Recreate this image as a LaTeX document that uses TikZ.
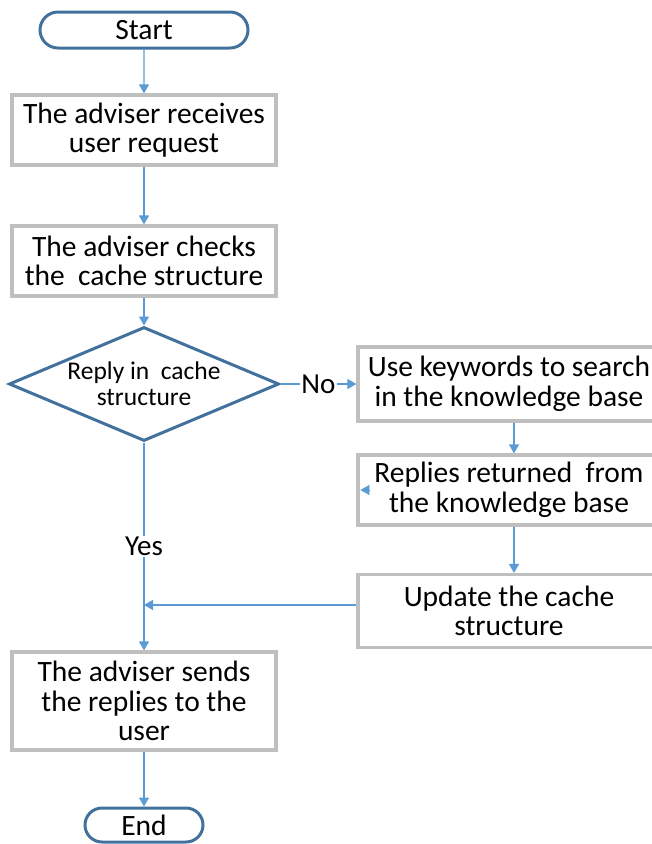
\documentclass[tikz,border=0pt]{standalone}
\usepackage{fontspec}
\setmainfont{Carlito}
\usetikzlibrary{shapes.geometric,shapes.misc,arrows.meta}
\definecolor{linkblue}{HTML}{5B9BD5}
\definecolor{edgeblue}{HTML}{41719C}
\definecolor{boxgray}{HTML}{BFBFBF}
\begin{document}
\begin{tikzpicture}[x=1pt,y=-1pt,
  terminal/.style={rounded rectangle,draw=edgeblue,line width=3pt,inner sep=0pt,
    font=\fontsize{29.5}{29.5}\selectfont},
  process/.style={rectangle,draw=boxgray,line width=3.2pt,align=center,inner sep=0pt,
    minimum height=70pt,font=\fontsize{29.5}{29.5}\selectfont},
  decision/.style={diamond,draw=edgeblue,line width=3pt,align=center,inner sep=0pt,
    aspect=2.4,minimum width=270pt,minimum height=114pt,font=\fontsize{25.5}{26}\selectfont},
  flow/.style={draw=linkblue,line width=1.4pt,-{Triangle[length=9pt,width=10pt]}},
  lbl/.style={fill=white,inner sep=1.5pt,font=\fontsize{29}{29}\selectfont}]
  \useasboundingbox (0,0) rectangle (652,844);
  \pgfmathsetmacro\mainx{144}
  \pgfmathsetmacro\sidex{509}
  % left column:
  \node[terminal,minimum width=208pt,minimum height=36pt] (start) at (\mainx,30) {Start};
  \node[process,minimum width=264pt] (receive) at (\mainx,130) {The adviser receives\\user request};
  \node[process,minimum width=264pt] (check) at (\mainx,261) {The adviser checks\\the\ \ cache structure};
  \node[decision] (incache) at (\mainx,384) {Reply in\ \ cache\\structure};
  \node[process,minimum width=264pt,minimum height=98pt] (send) at (\mainx,701) {The adviser sends\\the replies to the\\user};
  \node[terminal,minimum width=118pt,minimum height=34pt] (finish) at (\mainx,825) {End};
  % right column:
  \node[process,minimum width=302pt,minimum height=74pt] (search) at (\sidex,384) {Use keywords to search\\in the knowledge base};
  \node[process,minimum width=302pt] (returned) at (\sidex,490) {Replies returned\ \ from\\the knowledge base};
  \node[process,minimum width=302pt,minimum height=73pt] (update) at (\sidex,611) {Update the cache\\structure};
  % where the update rejoins the main line:
  \coordinate (join) at (\mainx,605);
  % main line:
  \draw[flow] (start) -- (receive);
  \draw[flow] (receive) -- (check);
  \draw[flow] (check) -- (incache);
  \draw[flow] (incache) -- (send) node[lbl,midway] {Yes};
  \draw[flow] (send) -- (finish);
  % search branch:
  \draw[flow] (incache) -- (search) node[lbl,midway] {No};
  \draw[flow] ([xshift=5pt]search.south) -- ([xshift=5pt]returned.north);
  \draw[flow] ([xshift=5pt]returned.south) -- ([xshift=5pt]update.north);
  \draw[flow] (update.west |- join) -- (join);
  % stray tip on the left side of the returned box:
  \draw[linkblue,-{Triangle[length=9pt,width=10pt]}] ([xshift=14pt]returned.west) -- ([xshift=4pt]returned.west);
\end{tikzpicture}
\end{document}
